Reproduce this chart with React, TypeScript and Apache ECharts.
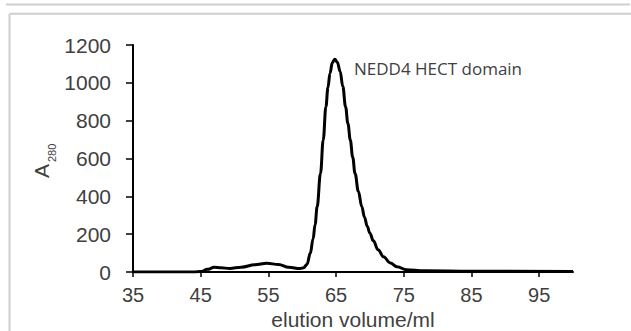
import React, { useEffect, useRef } from "react";
import * as echarts from "echarts";

const elutionVolume = [
  35, 40, 44, 45, 46, 47, 48, 49.3, 51, 53, 54.75, 56.5, 58, 59.7, 60.2, 60.7, 61.2, 61.6, 61.9,
  62.2, 62.7, 63.1, 63.5, 63.8, 64.1, 64.45, 64.8, 65.2, 65.6, 66.0, 66.4, 66.75, 67.1, 67.45,
  67.8, 68.3, 68.8, 69.2, 69.6, 70.0, 70.5, 71.2, 72, 73, 74, 75.4, 78, 85, 100,
];
const absorbance = [
  0, 0, 0, 2, 14, 25, 22, 19, 25, 38, 46, 40, 25, 18, 22, 40, 100, 175, 250,
  345, 521, 698, 874, 975, 1050, 1108, 1125, 1108, 1060, 980, 874, 785, 698, 608,
  521, 425, 345, 290, 242, 205, 165, 118, 81, 48, 28, 12, 6, 4, 3,
];
const xTicks = [35, 45, 55, 65, 75, 85, 95];
const yMin = 0;
const yMax = 1200;
const yStep = 200;
const xMin = 35;
const xMax = 100;
const annotation = "NEDD4 HECT domain";
const xTitle = "elution volume/ml";

export default function App() {
  const ref = useRef<HTMLDivElement>(null);
  useEffect(() => {
    if (!ref.current) return;
    const chart = echarts.init(ref.current, null, { renderer: "svg" });
    const labelColor = "#404040";
    chart.setOption({
      animation: false,
      backgroundColor: "#ffffff",
      grid: { left: 133, right: 58, top: 45, bottom: 59, containLabel: false, outerBoundsMode: "none" },
      xAxis: {
        type: "value",
        min: xMin,
        max: xMax,
        name: xTitle,
        nameLocation: "middle",
        nameGap: 37,
        nameMoveOverlap: false,
        nameTextStyle: { fontFamily: "Liberation Sans", fontSize: 21, lineHeight: 20, color: labelColor },
        splitLine: { show: false },
        axisLine: { show: true, onZero: false, lineStyle: { color: "#000", width: 2 } },
        axisTick: { show: true, length: 5, customValues: xTicks, lineStyle: { color: "#000", width: 1.5 } },
        axisLabel: {
          customValues: xTicks,
          margin: 14,
          lineHeight: 18,
          fontFamily: "Liberation Sans",
          fontSize: 20,
          color: labelColor,
        },
      },
      yAxis: {
        type: "value",
        min: yMin,
        max: yMax,
        interval: yStep,
        splitLine: { show: false },
        axisLine: { show: true, lineStyle: { color: "#000", width: 2 } },
        axisTick: { show: true, length: 7, lineStyle: { color: "#000", width: 1.5 } },
        axisLabel: {
          margin: 22,
          fontFamily: "Liberation Sans",
          fontSize: 21,
          color: labelColor,
          formatter: (v: number) => String(v),
        },
      },
      series: [
        {
          type: "line",
          data: elutionVolume.map((x, i) => [x, absorbance[i]]),
          smooth: 0.4,
          smoothMonotone: "x",
          showSymbol: false,
          lineStyle: { color: "#000", width: 3 },
        },
      ],
      graphic: [
        { type: "line", shape: { x1: 6, y1: 4.5, x2: 630, y2: 4.5 }, style: { stroke: "#cfcfcf", lineWidth: 2 } },
        { type: "line", shape: { x1: 9.5, y1: 13.8, x2: 631, y2: 13.8 }, style: { stroke: "#cfcfcf", lineWidth: 2 } },
        { type: "line", shape: { x1: 9.5, y1: 13.8, x2: 9.5, y2: 331 }, style: { stroke: "#cfcfcf", lineWidth: 2 } },
        {
          type: "text",
          left: 354,
          top: 60,
          style: { text: annotation, fontFamily: "Open Sans", fontSize: 17, fill: labelColor },
        },
        {
          type: "group",
          x: 41,
          y: 178,
          rotation: Math.PI / 2,
          children: [
            {
              type: "text",
              x: 0,
              y: 0,
              style: {
                text: "A",
                fontFamily: "Liberation Sans",
                fontSize: 21,
                fill: labelColor,
                align: "left",
                verticalAlign: "middle",
              },
            },
            {
              type: "text",
              x: 16,
              y: 11,
              style: {
                text: "280",
                fontFamily: "Liberation Sans",
                fontSize: 11,
                fill: labelColor,
                align: "left",
                verticalAlign: "middle",
              },
            },
          ],
        },
      ],
    });
    return () => chart.dispose();
  }, []);
  return <div ref={ref} style={{ width: 631, height: 331, position: "absolute", left: 0, top: 0 }} />;
}
